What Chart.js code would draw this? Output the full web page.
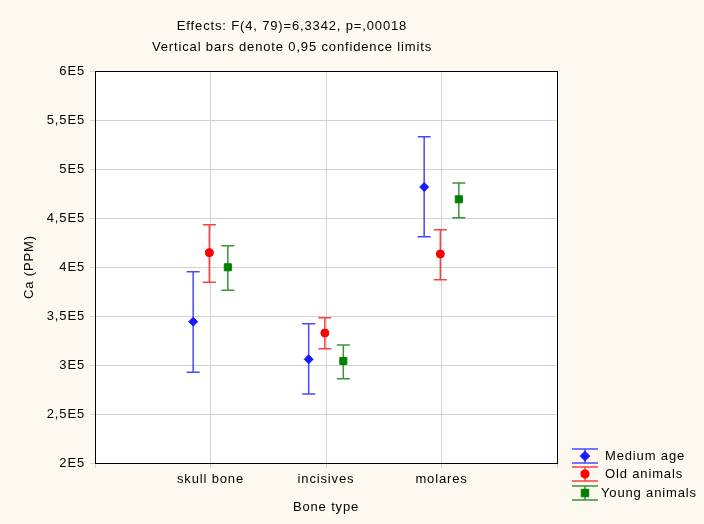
<!DOCTYPE html>
<html>
<head>
<meta charset="utf-8">
<script src="https://cdn.jsdelivr.net/npm/chart.js@4"></script>
<style>
html, body { margin: 0; padding: 0; background: #fdf9f0; }
</style>
</head>
<body>
<canvas id="grafico" width="704" height="524"></canvas>
<script>
// Datos
const categorias = ['skull bone', 'incisives', 'molares'];
const nombresSeries = ['Medium age', 'Old animals', 'Young animals'];

const medioMedia = [344200, 305800, 481600];
const medioInf = [292600, 270400, 430900];
const medioSup = [395200, 342100, 533000];

const viejoMedia = [414600, 332700, 413300];
const viejoInf = [384400, 316600, 387000];
const viejoSup = [443200, 348300, 438100];

const jovenMedia = [399700, 304100, 469100];
const jovenInf = [376200, 286000, 450300];
const jovenSup = [421700, 320400, 485700];

const ticksY = [200000, 250000, 300000, 350000, 400000, 450000, 500000, 550000, 600000];

// Estilo de cada serie
const estilos = [
    { color: '#1a1aff', linea: 'rgba(40,40,255,0.85)', punto: 'rectRot', radio: 4.5, desplazamiento: -0.15 },
    { color: '#ff0000', linea: 'rgba(255,30,30,0.85)', punto: 'circle', radio: 4, desplazamiento: -0.01 },
    { color: '#008000', linea: 'rgba(20,130,20,0.85)', punto: 'rect', radio: 5, desplazamiento: 0.15 }
];

const medias = [medioMedia, viejoMedia, jovenMedia];
const inferiores = [medioInf, viejoInf, jovenInf];
const superiores = [medioSup, viejoSup, jovenSup];

const espaciado = '0.85px';

function formatoE5(v) {
    return String(v / 100000).replace('.', ',') + 'E5';
}

const datasets = nombresSeries.map((nombre, s) => ({
    label: nombre,
    data: medias[s].map((m, i) => ({ x: i + 1 + estilos[s].desplazamiento, y: m })),
    backgroundColor: estilos[s].color,
    borderColor: estilos[s].color,
    pointStyle: estilos[s].punto,
    pointRadius: estilos[s].radio,
    pointHoverRadius: estilos[s].radio,
    showLine: false
}));

// Fondo blanco del área de trazado
const fondoArea = {
    id: 'fondoArea',
    beforeUpdate(chart) {
        chart.ctx.letterSpacing = espaciado;
    },
    beforeDraw(chart) {
        const { ctx, chartArea: a } = chart;
        ctx.letterSpacing = espaciado;
        ctx.save();
        ctx.fillStyle = '#ffffff';
        ctx.fillRect(a.left, a.top, a.right - a.left, a.bottom - a.top);
        ctx.restore();
    }
};

// Barras de error (límites de confianza)
const barrasError = {
    id: 'barrasError',
    beforeDatasetsDraw(chart) {
        const { ctx, scales } = chart;
        ctx.save();
        ctx.lineWidth = 1.5;
        for (let s = 0; s < nombresSeries.length; s++) {
            ctx.strokeStyle = estilos[s].linea;
            for (let i = 0; i < categorias.length; i++) {
                const x = scales.x.getPixelForValue(i + 1 + estilos[s].desplazamiento);
                const y1 = scales.y.getPixelForValue(inferiores[s][i]);
                const y2 = scales.y.getPixelForValue(superiores[s][i]);
                ctx.beginPath();
                ctx.moveTo(x, y1); ctx.lineTo(x, y2);
                ctx.moveTo(x - 6.5, y1); ctx.lineTo(x + 6.5, y1);
                ctx.moveTo(x - 6.5, y2); ctx.lineTo(x + 6.5, y2);
                ctx.stroke();
            }
        }
        ctx.restore();
    },
    afterDatasetsDraw(chart) {
        const { ctx, chartArea: a } = chart;
        ctx.save();
        ctx.strokeStyle = '#000000';
        ctx.lineWidth = 1;
        ctx.strokeRect(Math.round(a.left) + 0.5, Math.round(a.top) + 0.5,
            Math.round(a.right - a.left), Math.round(a.bottom - a.top));
        ctx.restore();
    }
};

// Título y leyenda
const textos = {
    id: 'textos',
    afterDraw(chart) {
        const ctx = chart.ctx;
        ctx.save();
        ctx.fillStyle = '#000000';
        ctx.font = '13px "Liberation Sans", Arial, sans-serif';
        ctx.textAlign = 'center';
        ctx.textBaseline = 'middle';
        ctx.fillText('Effects: F(4, 79)=6,3342, p=,00018', 292, 26);
        ctx.fillText('Vertical bars denote 0,95 confidence limits', 292, 47);

        const filas = [456, 474, 493];
        ctx.textAlign = 'left';
        for (let s = 0; s < nombresSeries.length; s++) {
            const yc = filas[s];
            ctx.strokeStyle = estilos[s].linea;
            ctx.lineWidth = 1.5;
            ctx.beginPath();
            ctx.moveTo(572, yc - 7); ctx.lineTo(598, yc - 7);
            ctx.moveTo(572, yc + 7); ctx.lineTo(598, yc + 7);
            ctx.moveTo(585, yc - 7); ctx.lineTo(585, yc + 7);
            ctx.stroke();
            ctx.fillStyle = estilos[s].color;
            Chart.helpers.drawPoint(ctx, { pointStyle: estilos[s].punto, radius: estilos[s].radio, borderWidth: 1 }, 585, yc);
            ctx.fill();
            ctx.fillStyle = '#000000';
            ctx.fillText(nombresSeries[s], s === 2 ? 601 : 605, yc);
        }
        ctx.restore();
    }
};

Chart.defaults.font.family = '"Liberation Sans", Arial, sans-serif';
Chart.defaults.font.size = 13;
Chart.defaults.color = '#000000';

const ctx = document.getElementById('grafico').getContext('2d');
ctx.letterSpacing = espaciado;
const grafico = new Chart(ctx, {
    type: 'scatter',
    data: { datasets },
    options: {
        responsive: false,
        animation: false,
        layout: { padding: { top: 71, right: 147, left: 0, bottom: 0 } },
        plugins: {
            legend: { display: false },
            title: { display: false },
            tooltip: { enabled: false }
        },
        scales: {
            x: {
                type: 'linear',
                min: 0,
                max: 4,
                afterFit: (scale) => { scale.height = 61; },
                afterBuildTicks: (scale) => { scale.ticks = [0, 1, 2, 3, 4].map(v => ({ value: v })); },
                ticks: {
                    padding: 4,
                    maxRotation: 0,
                    autoSkip: false,
                    callback: (v) => categorias[v - 1] || ''
                },
                grid: { color: '#d3d3d3', tickLength: 5 },
                border: { color: '#000000' },
                title: { display: true, text: 'Bone type', padding: { top: 0, bottom: 9 } }
            },
            y: {
                min: 200000,
                max: 600000,
                afterFit: (scale) => { scale.width = 95; },
                afterBuildTicks: (scale) => { scale.ticks = ticksY.map(v => ({ value: v })); },
                ticks: {
                    padding: 5,
                    autoSkip: false,
                    callback: (v) => formatoE5(v)
                },
                grid: { color: '#d3d3d3', tickLength: 5 },
                border: { color: '#000000' },
                title: { display: true, text: 'Ca (PPM)', padding: { top: 22, bottom: 0 } }
            }
        }
    },
    plugins: [fondoArea, barrasError, textos]
});
</script>
</body>
</html>
